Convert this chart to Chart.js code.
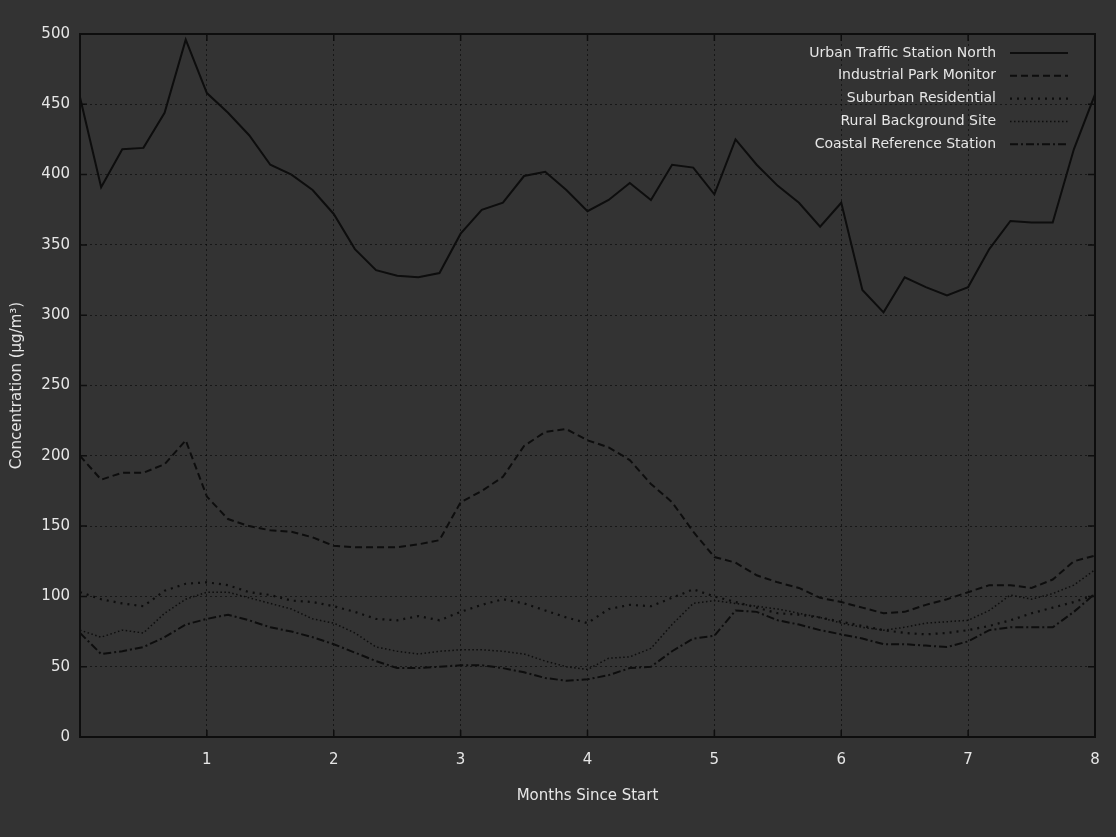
<!DOCTYPE html>
<html>
<head>
<meta charset="utf-8">
<script src="https://cdn.jsdelivr.net/npm/chart.js@4.4.0/dist/chart.umd.min.js"></script>
<style>
html,body{margin:0;padding:0;background:#333333;}
#wrap{width:1116px;height:837px;}
</style>
</head>
<body>
<div id="wrap"><canvas id="c" width="1116" height="837"></canvas></div>
<script>
// x values (days since start); axis labelled in months
const days = [0,5,10,15,20,25,30,35,40,45,50,55,60,65,70,75,80,85,90,95,100,105,110,115,120,125,130,135,140,145,150,155,160,165,170,175,180,185,190,195,200,205,210,215,220,225,230,235,240];

const seriesLabels = [
  "Urban Traffic Station North",
  "Industrial Park Monitor",
  "Suburban Residential",
  "Rural Background Site",
  "Coastal Reference Station"
];

const urbanTraffic = [455,391,418,419,444,496,458,444,428,407,400,389,372,347,332,328,327,330,358,375,380,399,402,389,374,382,394,382,407,405,386,425,407,392,380,363,380,318,302,327,320,314,320,347,367,366,366,418,457];
const industrialPark = [200,183,188,188,194,211,171,155,150,147,146,142,136,135,135,135,137,140,167,175,185,207,217,219,211,206,197,180,167,146,128,124,115,110,106,99,96,92,88,89,94,98,103,108,108,106,112,125,129];
const suburban = [103,98,95,93,104,109,110,108,103,101,97,96,93,89,84,83,86,83,89,94,98,95,90,85,81,91,94,93,99,105,100,96,92,88,87,85,82,79,76,74,73,74,76,79,83,88,92,96,101];
const ruralBackground = [76,71,76,74,88,98,103,103,99,95,91,84,81,74,64,61,59,61,62,62,61,59,54,50,48,56,57,63,80,95,97,95,93,91,88,85,81,78,76,78,81,82,83,90,101,98,102,108,119];
const coastalReference = [74,59,61,64,71,80,84,87,83,78,75,71,66,60,54,49,49,50,51,51,49,46,42,40,41,44,49,50,61,70,72,90,89,83,80,76,73,70,66,66,65,64,68,76,78,78,78,89,102];

const yMin = 0, yMax = 500, yStep = 50;
const xMin = 0, xMax = 240, xStep = 30;
const xTitle = "Months Since Start";
const yTitle = "Concentration (µg/m³)";

const seriesValues = [urbanTraffic, industrialPark, suburban, ruralBackground, coastalReference];
const seriesDash = [[], [7,4], [2,5], [1.5,2.5], [8,3,2,3]];
const seriesWidth = [2, 2, 2.2, 1.5, 2];

const FONT = '"DejaVu Sans", "Liberation Sans", sans-serif';
const TEXT = '#e6e6e6';

const datasets = seriesValues.map((vals, i) => ({
  label: seriesLabels[i],
  data: days.map((d, j) => ({x: d, y: vals[j]})),
  borderColor: '#0d0d0d',
  backgroundColor: '#0d0d0d',
  borderWidth: seriesWidth[i],
  borderDash: seriesDash[i],
  pointRadius: 0,
  tension: 0,
  fill: false
}));

const bgPlugin = {
  id: 'bg',
  beforeDraw(chart) {
    const ctx = chart.ctx;
    ctx.save();
    ctx.fillStyle = '#333333';
    ctx.fillRect(0, 0, chart.width, chart.height);
    ctx.restore();
  }
};

const framePlugin = {
  id: 'frame',
  afterDraw(chart) {
    const ctx = chart.ctx;
    const ca = chart.chartArea;
    const xs = chart.scales.x, ys = chart.scales.y;
    ctx.save();
    // inward tick marks on all four sides
    ctx.strokeStyle = '#0d0d0d';
    ctx.lineWidth = 1.5;
    const tl = 7;
    xs.ticks.forEach(t => {
      const px = xs.getPixelForValue(t.value);
      ctx.beginPath();
      ctx.moveTo(px, ca.bottom); ctx.lineTo(px, ca.bottom - tl);
      ctx.moveTo(px, ca.top); ctx.lineTo(px, ca.top + tl);
      ctx.stroke();
    });
    ys.ticks.forEach(t => {
      const py = ys.getPixelForValue(t.value);
      ctx.beginPath();
      ctx.moveTo(ca.left, py); ctx.lineTo(ca.left + tl, py);
      ctx.moveTo(ca.right, py); ctx.lineTo(ca.right - tl, py);
      ctx.stroke();
    });
    // frame
    ctx.lineWidth = 2;
    ctx.strokeRect(ca.left, ca.top, ca.right - ca.left, ca.bottom - ca.top);

    // legend (text on left, line sample on right), inside upper right
    ctx.font = '14px ' + FONT;
    ctx.textAlign = 'right';
    ctx.textBaseline = 'middle';
    const lineEnd = ca.right - 27;
    const lineStart = lineEnd - 58;
    const textRight = lineStart - 14;
    chart.data.datasets.forEach((ds, i) => {
      const y = ca.top + 19 + i * 22.8;
      ctx.fillStyle = TEXT;
      ctx.fillText(ds.label, textRight, y);
      ctx.strokeStyle = ds.borderColor;
      ctx.lineWidth = ds.borderWidth;
      ctx.setLineDash(ds.borderDash);
      ctx.beginPath();
      ctx.moveTo(lineStart, y); ctx.lineTo(lineEnd, y);
      ctx.stroke();
      ctx.setLineDash([]);
    });
    ctx.restore();
  }
};

new Chart(document.getElementById('c'), {
  type: 'line',
  data: { datasets },
  plugins: [bgPlugin, framePlugin],
  options: {
    responsive: false,
    animation: false,
    devicePixelRatio: 1,
    layout: { padding: { top: 34, right: 21, left: 0, bottom: 0 } },
    plugins: { legend: { display: false }, tooltip: { enabled: false } },
    scales: {
      x: {
        type: 'linear',
        min: xMin, max: xMax,
        afterFit(scale) { scale.height = 100; },
        ticks: {
          stepSize: xStep,
          color: TEXT,
          font: { family: FONT, size: 15 },
          padding: 14,
          maxRotation: 0,
          callback: v => (v === 0 ? '' : String(v / xStep))
        },
        grid: { color: 'rgba(0,0,0,0.55)', lineWidth: 1, drawTicks: false },
        border: { display: false, dash: [2, 3] },
        title: {
          display: true, text: xTitle, color: TEXT,
          font: { family: FONT, size: 15 },
          padding: { top: 32, bottom: 32 }
        }
      },
      y: {
        type: 'linear',
        min: yMin, max: yMax,
        afterFit(scale) { scale.width = 80; },
        ticks: {
          stepSize: yStep,
          color: TEXT,
          font: { family: FONT, size: 15 },
          padding: 10
        },
        grid: { color: 'rgba(0,0,0,0.55)', lineWidth: 1, drawTicks: false },
        border: { display: false, dash: [2, 3] },
        title: {
          display: true, text: yTitle, color: TEXT,
          font: { family: FONT, size: 15 },
          padding: { top: 8, bottom: 8 }
        }
      }
    }
  }
});
</script>
</body>
</html>
